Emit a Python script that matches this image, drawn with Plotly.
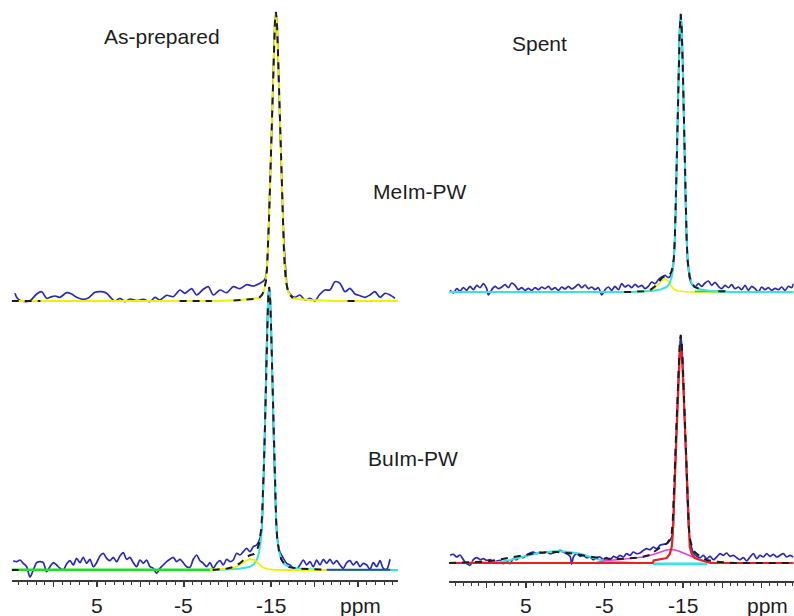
import plotly.graph_objects as go

# ---------------- data (ppm, intensity in arbitrary units) ----------------
# Top-left: As-prepared MeIm-PW
LT_DATA_PPM = [14.43, 14.16, 13.66, 12.70, 11.93, 11.36, 10.79, 10.40, 9.83, 9.25, 8.49, 7.91, 7.34, 6.57, 6.00, 5.23,
               4.46, 3.89, 3.31, 2.93, 2.36, 1.78, 1.21, 0.44, -0.33, -1.09, -1.67, -2.24, -3.01, -3.77, -4.54, -5.11,
               -5.88, -6.46, -7.22, -7.80, -8.37, -9.14, -9.90, -10.67, -11.44, -12.20, -12.97, -13.74, -14.31, -14.54,
               -14.65, -14.77, -14.88, -15.00, -15.11, -15.22, -15.34, -15.45, -15.57, -15.69, -15.80, -15.92, -16.03,
               -16.15, -16.26, -16.38, -16.49, -16.60, -16.72, -16.85, -17.18, -17.76, -18.33, -18.90, -19.48, -20.06,
               -20.55, -21.20, -21.78, -22.36, -22.93, -23.50, -24.08, -24.66, -25.23, -25.80, -26.38, -26.95, -27.53,
               -28.10, -28.68, -29.25]
LT_DATA_INT = [7.7, 2.7, 0, 0.3, 7, 9.3, 2.7, 3.7, 5, 3.7, 8.3, 7, 3.7, 1.7, 3, 8.7,
               9.3, 7.7, 2.3, -0.3, 2.7, -0.7, 2, 0.3, 1.7, -0.7, 3.7, 1, 5.7, 4.3, 11, 7.7,
               12.3, 6, 11.7, 14.3, 6, 11, 8.3, 14.3, 12.3, 16.3, 15, 17.7, 21.7, 34,
               52, 84, 114, 147, 177, 213, 251, 278, 289, 278, 251, 213, 177,
               147, 114, 84, 60, 42, 28, 14, 7, 3.7, 6, 1, 2.7, 0,
               6, 11, 11, 19.3, 17.7, 9.3, 12.7, 7, 5.3, 3.7, 6, 9.3, 3.7,
               7.7, 6, 2.7]
LT_FIT_PPM = [14.8, -8.67, -11.55, -13.04, -13.62, -13.96, -14.19, -14.42, -14.54, -14.65, -14.77, -14.88, -15.00,
              -15.11, -15.22, -15.34, -15.45, -15.57, -15.69, -15.80, -15.92, -16.03, -16.15, -16.26, -16.38, -16.49,
              -16.60, -16.72, -16.95, -17.18, -17.52, -18.10, -19.59, -22.47, -29.6]
LT_FIT_INT = [0, 0, 1, 2, 3, 6, 10, 20, 32, 50, 80, 112, 145,
              175, 212, 250, 278, 289, 278, 250, 212, 175, 145, 112, 80, 50,
              32, 20, 10, 6, 3, 2, 1, 0, 0]
LT_SUM_PPM = [14.8, 11.5, None, -4.5, -8.2, None, -10.7, -11.55, -13.04, -13.62, -13.96, -14.19, -14.42, -14.54,
              -14.65, -14.77, -14.88, -15.00, -15.11, -15.22, -15.34, -15.45, -15.57, -15.69, -15.80, -15.92, -16.03,
              -16.15, -16.26, -16.38, -16.49, -16.60, -16.72, -16.95, -17.18, -17.52, None, -23.8, -25.3]
LT_SUM_INT = [0, 0, None, 0, 0, None, 0.6, 1, 2, 3, 6, 10, 20, 32,
              50, 80, 112, 145, 175, 212, 250, 278, 289, 278, 250, 212, 175,
              145, 112, 80, 50, 32, 20, 10, 6, 3, None, 0, 0]

# Top-right: Spent MeIm-PW
RT_DATA_PPM = [14.68, 14.25, 13.83, 13.40, 12.98, 12.56, 12.13, 11.71, 11.28, 10.86, 10.43, 10.01, 9.80, 9.37, 8.95,
               8.52, 8.10, 7.67, 7.25, 6.82, 6.40, 5.97, 5.55, 5.12, 4.70, 4.28, 3.85, 3.43, 3.00, 2.58, 2.15, 1.73,
               1.30, 0.88, 0.45, 0.03, -0.40, -0.82, -1.25, -1.67, -2.09, -2.52, -2.94, -3.37, -3.79, -4.22, -4.64,
               -5.07, -5.49, -5.92, -6.34, -6.77, -7.19, -7.61, -8.04, -8.46, -8.89, -9.31, -9.74, -10.16, -10.59,
               -11.01, -11.44, -11.86, -12.29, -12.71, -13.13, -13.56, -13.82, -13.95, -14.07, -14.20, -14.33, -14.46,
               -14.58, -14.71, -14.84, -14.97, -15.09, -15.22, -15.35, -15.47, -15.60, -15.86, -16.11, -16.53, -16.96,
               -17.38, -17.81, -18.23, -18.66, -19.08, -19.50, -19.93, -20.35, -20.78, -21.20, -21.63, -22.05, -22.48,
               -22.90, -23.33, -23.75, -24.18, -24.60, -25.02, -25.45, -25.87, -26.30, -26.72, -27.15, -27.57, -28.00,
               -28.42, -28.85, -29.06]
RT_DATA_INT = [1.7, -1, 3.3, 1, 4.3, 1.7, 5.7, 2.3, 6.7, 4.3, 8.3, 3.3, -3, 2.3, 5.7,
               3.3, 5, 7.3, 4.3, 9, 6.7, 2.3, 4.3, 1.7, 3.7, 1.7, 4.3, 2.3, 5, 3.3, 5.7, 2.3,
               4.3, 1.7, 5, 3, 5.7, 3, 5, 7.7, 4.3, 7, 3.3, 5, 2.3, 4.3, -3,
               2.3, 5, 1.7, 5.7, 2.3, 8.3, 5, 7, 4.3, 7.7, 5, 6.7, 3.3, 5.7,
               10, 8.3, 12.3, 15, 16.7, 14.3, 18.3, 32, 52, 82, 132, 177, 227,
               263, 278, 263, 227, 177, 132, 82, 52, 32, 13, 8.3, 5, 8.3,
               5.7, 9, 11, 6.7, 9.7, 5.7, 3.3, 6.7, 4.3, 7.3, 3.3, 5, 2.3,
               6.7, 1.7, 5.7, 3.3, 0, 5, 2.3, 4.3, 1.7, 3.7, 2.3, 5, 1.7,
               5.7, 4.3, 8.3]
RT_MAIN_PPM = [14.8, -8.34, -10.89, -12.16, -12.93, -13.31, -13.56, -13.82, -13.95, -14.07, -14.20, -14.33, -14.46,
               -14.58, -14.71, -14.84, -14.97, -15.09, -15.22, -15.35, -15.47, -15.60, -15.86, -16.11, -16.49, -17.26,
               -18.53, -21.08, -29.1]
RT_MAIN_INT = [0, 0, 1, 2.5, 5, 9, 15, 30, 50, 80, 130, 175, 225,
               262, 278, 262, 225, 175, 130, 80, 50, 30, 15, 9, 5, 2.5,
               1, 0, 0]
RT_SIDE_PPM = [-8.0, -10.0, -10.8, -11.4, -11.9, -12.3, -12.7, -13.1, -13.4, -13.8, -14.3, -15.0, -16.0, -20.0]
RT_SIDE_INT = [0, 0.5, 1.5, 4, 8, 11.5, 13, 11, 7, 3, 1, 0.3, 0, 0]
RT_SUM_PPM = [-7.5, -8.34, -10.0, -10.89, -11.4, -11.9, -12.3, -12.7, -13.1, -13.31, -13.56, -13.82, -13.95, -14.07,
              -14.20, -14.33, -14.46, -14.58, -14.71, -14.84, -14.97, -15.09, -15.22, -15.35, -15.47, -15.60, -15.86,
              -16.11, -16.49, -17.26, None, -19.5, -21.0]
RT_SUM_INT = [0, 0, 0.8, 2.5, 5.5, 10, 14, 16, 17, 17, 21, 33, 52, 81,
              130, 175, 225, 262, 278, 262, 225, 175, 130, 80, 50, 30, 15,
              9, 5, 2.5, None, 0.7, 0.7]
RT_BASE_PPM = [-16.5, -20.5]
RT_BASE_INT = [0.7, 0.7]

# Bottom-left: As-prepared BuIm-PW
LB_LEFT_PPM = [14.62, 14.23, 13.85, 13.47, 13.08, 12.70, 12.32, 11.93, 11.55, 11.17,
               10.79, 10.40, 10.02, 9.64, 9.25, 8.87, 8.49, 8.10, 7.72, 7.34,
               6.95, 6.57, 6.19, 5.81, 5.42, 5.04, 4.66, 4.27, 3.89, 3.51,
               3.12, 2.74, 2.36, 1.97, 1.59, 1.21, 0.82, 0.44, 0.06, -0.33,
               -0.71, -1.09, -1.48, -1.86, -2.24, -2.62, -3.01, -3.39, -3.77, -4.16,
               -4.54, -4.92, -5.31, -5.69, -6.07, -6.46, -6.84, -7.22, -7.61, -7.99,
               -8.37, -8.75, -9.14, -9.52, -9.90, -10.29, -10.67, -11.05, -11.44, -11.82,
               -12.20, -12.59, -12.97, -13.35, -13.74, -13.93]
LB_LEFT_INT = [9.3, 8.3, 10, 6.7, 3.3, -7, 0, 7.3, 8.3, 7.3,
               -1.7, 3.3, 7.3, 5, 1.7, 0, 6, 9.3, 5, 11.7,
               7.3, 12.7, 6.7, 10.7, 3.3, 7.3, 14, 16.7, 11.7, 9.3,
               12.7, 8.3, 14, 17.3, 10.7, 12.7, 7.3, 3.3, 10, 6.7,
               10, 3.3, 1.7, -3.3, 1.7, 5, 8.3, 10.7, 12.7, 8.3,
               10.7, 7.3, 3.3, 2.7, 10.7, 15, 9.3, 6.7, 3.3, 7.3,
               1.7, 6.7, 9.3, 5, 10.7, 8.3, 10, 16.7, 15, 18.3,
               21.7, 18.3, 23.3, 25, 31.7, 40]
LB_PEAK_PPM = [-14.10, -14.21, -14.33, -14.44, -14.56, -14.67, -14.79, -14.91, -15.02, -15.14, -15.25, -15.37,
               -15.48, -15.60, -15.71, -15.94]
LB_PEAK_INT = [77, 112, 152, 202, 242, 271, 283, 271, 242, 202, 152, 112, 78, 50, 34, 20]
LB_RIGHT_PPM = [-16.42, -16.80, -17.18, -17.57, -17.95, -18.33, -18.72, -19.10, -19.48, -19.87,
                -20.25, -20.63, -21.02, -21.40, -21.78, -22.16, -22.55, -22.93, -23.31, -23.70,
                -24.08, -24.46, -24.85, -25.23, -25.61, -26.00, -26.38, -26.76, -27.15, -27.53,
                -27.91, -28.30, -28.68]
LB_RIGHT_INT = [11.7, 6.7, 5, 1.7, 0.7, 5, 10, 5, 8.3, 3.3,
                10, 5, 10.7, 6.7, 10.7, 6, 9.3, 5, 1.7, 7.3,
                9.3, 5, 8.3, 3.3, 6.7, 5, 0.7, 7.3, 3.3, 9.3,
                1.7, 0.7, 10.7]
LB_MAIN_PPM = [14.8, -9.04, -11.34, -12.49, -13.07, -13.41, -13.64, -13.87, -13.98, -14.10, -14.21, -14.33, -14.44,
               -14.56, -14.67, -14.79, -14.91, -15.02, -15.14, -15.25, -15.37, -15.48, -15.60, -15.71, -15.94, -16.17,
               -16.51, -17.09, -18.24, -20.54, -29.6]
LB_MAIN_INT = [0, 0.3, 1.2, 3, 6, 11, 18, 32, 48, 75, 110, 150, 200,
               240, 270, 283, 270, 240, 200, 150, 110, 75, 48, 32, 18, 11,
               6, 3, 1.2, 0.3, 0]
LB_SIDE_PPM = [-8.0, -10.0, -10.6, -11.4, -12.0, -12.6, -13.1, -13.6, -14.1, -14.6, -15.5, -17.0, -21.5]
LB_SIDE_INT = [0, 1, 2, 5, 8.5, 11, 10, 6, 2.5, 0.8, 0.2, 0, 0]
LB_BASE_PPM = [14.8, -8.3]
LB_BASE_INT = [0.3, 0.3]
LB_TAIL_PPM = [-21.4, -28.7]
LB_TAIL_INT = [0.2, 0.2]
LB_SUM_PPM = [14.8, 13.8, None, -8.3, -10.0, -10.6, -11.4, -12.0, -12.5, -13.07, -13.41, -13.64, -13.87, -13.98,
              -14.10, -14.21, -14.33, -14.44, -14.56, -14.67, -14.79, -14.91, -15.02, -15.14, -15.25, -15.37, -15.48,
              -15.60, -15.71, -15.94, -16.17, -16.51, -17.09, -18.24, -21.4]
LB_SUM_INT = [0, 0, None, 0, 1.5, 2.8, 6.5, 11, 14.5, 16, 20, 27, 40, 55,
              78, 111, 150, 200, 240, 270, 283, 270, 240, 200, 150, 110, 75,
              48, 32, 18, 11, 6, 3, 1.2, 0.4]

# Bottom-right: Spent BuIm-PW
RB_LEFT_PPM = [14.68, 14.26, 13.83, 13.41, 12.98, 12.56, 12.13, 11.71, 11.28, 10.86,
               10.43, 10.01, 9.58, 9.16, 8.74, 8.31, 7.89, 7.46, 7.04, 6.61,
               6.19, 5.76, 5.34, 4.91, 4.49, 4.06, 3.64, 3.22, 2.79, 2.37,
               1.94, 1.52, 1.09, 0.67, 0.24, -0.18, -0.61, -0.82,
               -1.03, -1.46, -1.88, -2.30, -2.73, -3.15, -3.58, -4.00, -4.43, -4.85,
               -5.28, -5.70, -6.13, -6.55, -6.98, -7.40, -7.82, -8.25, -8.67, -9.10,
               -9.52, -9.95, -10.37, -10.80, -11.22, -11.65, -12.07, -12.50, -12.92, -13.35,
               -13.68]
RB_LEFT_INT = [7.7, 8.7, 6, 8, 3.3, -0.7, -2.3, 3.3, 5.3, 3.3,
               4.3, 2.7, 3.3, 1, 2, 2.7, -0.7, 2, -0.7, 4.3,
               3.3, 6.7, 5.3, 7.7, 10, 11, 9.3, 11, 10, 11,
               9.3, 10, 11, 12.7, 11, 9.3, 6.7, -1.3,
               6, 9.3, 6.7, 7.7, 5.3, 6, 3.3, 5.3, 6, 3.3,
               5.3, 2.7, 6.7, 5.3, 7.7, 6, 9.3, 7.7, 11, 9.3,
               10, 12.7, 14.3, 13.3, 16, 14.3, 17.7, 18.7, 19.3, 22.7,
               29.3]
RB_PEAK_PPM = [-13.82, -13.95, -14.07, -14.20, -14.33, -14.46, -14.58, -14.71, -14.84, -14.97, -15.09, -15.22,
               -15.35, -15.47, -15.60, -15.73, -15.86]
RB_PEAK_INT = [52, 82, 110, 138, 168, 195, 215, 228, 217, 197, 170, 140, 112, 84, 54, 34, 24]
RB_RIGHT_PPM = [-16.32, -16.74, -17.17, -17.59, -18.02, -18.44, -18.87, -19.29, -19.71, -20.14,
                -20.56, -20.99, -21.41, -21.84, -22.26, -22.69, -23.11, -23.54, -23.96, -24.39,
                -24.81, -25.24, -25.66, -26.09, -26.51, -26.94, -27.36, -27.78, -28.21, -28.63,
                -29.06]
RB_RIGHT_INT = [10, 6.7, 5.3, 7.7, 4.3, 6.7, 3.3, 6, 9.3, 7.7,
                10, 6.7, 7.7, 5.3, 3.3, 5.3, 2, 6, 9.3, 4.3,
                7.7, 6, 9.3, 6.7, 8.7, 6, 7.7, 9.3, 6, 7.7,
                6]
RB_MAIN_PPM = [14.8, -11.14, -11.27, -12.16, -12.93, -13.31, -13.56, -13.69, -13.82, -13.95, -14.07, -14.20, -14.33,
               -14.46, -14.58, -14.71, -14.84, -14.97, -15.09, -15.22, -15.35, -15.47, -15.60, -15.73, -15.86, -16.11,
               -16.49, -17.26, -18.02, -18.53, -29.1]
RB_MAIN_INT = [0, 0, 2.5, 3.5, 5, 9, 16, 28, 50, 80, 108, 135, 165,
               190, 208, 216, 208, 190, 165, 135, 108, 80, 50, 28, 16, 9,
               5, 3, 1, 0, 0]
RB_MID_PPM = [-4.0, -5.3, -7.0, -8.5, -10.0, -11.2, -12.2, -12.9, -13.4, -14.0, -14.6, -15.2, -15.9, -16.6, -17.3,
              -18.2, -19.5]
RB_MID_INT = [0.5, 2.5, 3.5, 4.5, 6, 8.5, 11.5, 13, 13.5, 13, 11.5, 9.5, 7, 4.5, 2.5, 1, 0]
RB_BROAD_PPM = [14.8, 10.0, 8.3, 7.0, 5.5, 4.0, 2.5, 1.0, -0.5, -1.9, -3.2, -4.4, -5.8, -7.5, -9.0]
RB_BROAD_INT = [0, 0.3, 1, 3, 6, 9, 11, 12, 11, 9.3, 6, 3.3, 1.5, 0.5, 0]
RB_FLAT_PPM = [-11.2, -18.1]
RB_FLAT_INT = [-0.8, -0.8]
RB_SUM_PPM = [14.8, 12.0, 10.0, 8.0, 6.0, 4.0, 2.0, 1.0, -1.0, -3.0, -5.0, -6.5, -8.0, -9.5, -11.0, -11.27, -12.0,
              -12.5, -13.0, -13.31, -13.56, -13.69, -13.82, -13.95, -14.07, -14.20, -14.33, -14.46, -14.58, -14.71,
              -14.84, -14.97, -15.09, -15.22, -15.35, -15.47, -15.60, -15.73, -15.86, -16.11, -16.49, -17.26, -18.02,
              -19.0, -20.5, -22.0, -29.1]
RB_SUM_INT = [0, 0.5, 1.5, 4, 7, 9.5, 11, 11, 9.5, 6.5, 4.5, 4, 4.5, 5.5, 8.5, 11, 15,
              17.5, 20, 24, 30, 42, 63, 93, 120, 148, 178, 202, 220, 228,
              219, 200, 175, 146, 117, 89, 58, 37, 25, 17, 11, 6, 3,
              1.5, 0.5, 0, 0]

TICK_VALS = [5, -5, -15, -25]
TICK_TEXT = ["5", "-5", "-15", "ppm"]

LB_DATA_PPM = LB_LEFT_PPM + LB_PEAK_PPM + LB_RIGHT_PPM
LB_DATA_INT = LB_LEFT_INT + LB_PEAK_INT + LB_RIGHT_INT
RB_DATA_PPM = RB_LEFT_PPM + RB_PEAK_PPM + RB_RIGHT_PPM
RB_DATA_INT = RB_LEFT_INT + RB_PEAK_INT + RB_RIGHT_INT

pairs = [(LT_DATA_PPM, LT_DATA_INT), (LT_FIT_PPM, LT_FIT_INT), (LT_SUM_PPM, LT_SUM_INT),
         (RT_DATA_PPM, RT_DATA_INT), (RT_MAIN_PPM, RT_MAIN_INT), (RT_SIDE_PPM, RT_SIDE_INT),
         (RT_SUM_PPM, RT_SUM_INT), (LB_DATA_PPM, LB_DATA_INT), (LB_MAIN_PPM, LB_MAIN_INT),
         (LB_SIDE_PPM, LB_SIDE_INT), (LB_SUM_PPM, LB_SUM_INT), (RB_DATA_PPM, RB_DATA_INT),
         (RB_MAIN_PPM, RB_MAIN_INT), (RB_MID_PPM, RB_MID_INT), (RB_BROAD_PPM, RB_BROAD_INT),
         (RB_SUM_PPM, RB_SUM_INT)]
for i, (a, b) in enumerate(pairs):
    assert len(a) == len(b), (i, len(a), len(b))

# ---------------- styling ----------------
W, H = 794, 616
BLUE = "#2a2ab6"
YELLOW = "#f0f000"
CYAN = "#36e2e2"
GREEN = "#22dd22"
RED = "#ee1f1f"
MAGENTA = "#dd44dd"
DARK = "#1c1c1c"
FONT = "Liberation Sans, Arial, sans-serif"

fig = go.Figure()


def line(x, y, xa, ya, color, width, dash=None, shape="linear"):
    fig.add_trace(go.Scatter(x=x, y=y, xaxis=xa, yaxis=ya, mode="lines", connectgaps=False,
                             line=dict(color=color, width=width, dash=dash, shape=shape,
                                       smoothing=0.8 if shape == "spline" else None),
                             hoverinfo="skip", showlegend=False))


DASH = "7px,6px"

# top-left (x, y3)
line(LT_DATA_PPM, LT_DATA_INT, "x", "y3", BLUE, 1.7, shape="spline")
line(LT_FIT_PPM, LT_FIT_INT, "x", "y3", YELLOW, 1.9)
line(LT_SUM_PPM, LT_SUM_INT, "x", "y3", DARK, 2, DASH)

# top-right (x2, y4)
line(RT_DATA_PPM, RT_DATA_INT, "x2", "y4", BLUE, 1.7, shape="spline")
line(RT_SIDE_PPM, RT_SIDE_INT, "x2", "y4", YELLOW, 1.6)
line(RT_BASE_PPM, RT_BASE_INT, "x2", "y4", GREEN, 1.8)
line(RT_MAIN_PPM, RT_MAIN_INT, "x2", "y4", CYAN, 2)
line(RT_SUM_PPM, RT_SUM_INT, "x2", "y4", DARK, 2, DASH)

# bottom-left (x, y)
line(LB_DATA_PPM, LB_DATA_INT, "x", "y", BLUE, 1.7, shape="spline")
line(LB_MAIN_PPM, LB_MAIN_INT, "x", "y", CYAN, 2)
line(LB_BASE_PPM, LB_BASE_INT, "x", "y", GREEN, 2.6)
line(LB_SIDE_PPM, LB_SIDE_INT, "x", "y", YELLOW, 1.8)
line(LB_TAIL_PPM, LB_TAIL_INT, "x", "y", "#2e4f86", 2)
line(LB_SUM_PPM, LB_SUM_INT, "x", "y", DARK, 2, DASH)

# bottom-right (x2, y2)
line(RB_DATA_PPM, RB_DATA_INT, "x2", "y2", BLUE, 1.7, shape="spline")
line(RB_BROAD_PPM, RB_BROAD_INT, "x2", "y2", CYAN, 2)
line(RB_FLAT_PPM, RB_FLAT_INT, "x2", "y2", CYAN, 2.8)
line(RB_MID_PPM, RB_MID_INT, "x2", "y2", MAGENTA, 1.6)
line(RB_MAIN_PPM, RB_MAIN_INT, "x2", "y2", RED, 2.2)
line(RB_SUM_PPM, RB_SUM_INT, "x2", "y2", DARK, 2, DASH)


def px_x(p):
    return p / W


def px_y(p):
    return 1 - p / H


axis_common = dict(showgrid=False, zeroline=False, showticklabels=False, showline=True,
                   linecolor="#3a3a3a", linewidth=1.5, ticks="outside", tickcolor="#3a3a3a",
                   ticklen=5, tickwidth=1.3, tick0=0, dtick=5, anchor="free", fixedrange=True,
                   minor=dict(ticks="outside", dtick=1, ticklen=3, tickcolor="#3a3a3a", tickwidth=1))

yaxis_common = dict(visible=False, domain=[0, 1], fixedrange=True)

fig.update_layout(
    width=W, height=H, autosize=False,
    margin=dict(l=0, r=0, t=0, b=0),
    paper_bgcolor="white", plot_bgcolor="rgba(0,0,0,0)",
    xaxis=dict(domain=[px_x(11.7), px_x(398.0)], range=[14.8, -29.6], position=px_y(580), **axis_common),
    xaxis2=dict(domain=[px_x(449.1), px_x(793.7)], range=[14.8, -29.1], position=px_y(581), **axis_common),
    yaxis=dict(anchor="x", range=[-(H - 570), 570], **yaxis_common),
    yaxis2=dict(anchor="x2", range=[-(H - 563), 563], **yaxis_common),
    yaxis3=dict(anchor="x", overlaying="y", range=[-(H - 301), 301], **yaxis_common),
    yaxis4=dict(anchor="x2", overlaying="y2", range=[-(H - 292), 292], **yaxis_common),
)

ann = []
for xa in ["x", "x2"]:
    for v, t in zip(TICK_VALS, TICK_TEXT):
        xv = v
        if t == "ppm":
            xv = -25.3 if xa == "x" else -25.8
        ann.append(dict(x=xv, y=px_y(605), xref=xa, yref="paper", text=t, showarrow=False,
                        xanchor="center", yanchor="middle",
                        font=dict(family=FONT, size=21, color="#1e1e1e")))

labels = [("As-prepared", 161.5, 37), ("Spent", 539, 44), ("MeIm-PW", 420, 191), ("BuIm-PW", 413, 458)]
for t, cx, cy in labels:
    ann.append(dict(x=px_x(cx), y=px_y(cy), xref="paper", yref="paper", text=t, showarrow=False,
                    xanchor="center", yanchor="middle",
                    font=dict(family=FONT, size=21, color="#1e1e1e")))

fig.update_layout(annotations=ann)
fig.write_html("out.html", config={"displayModeBar": False, "staticPlot": True},
               post_script="document.body.style.margin='0px';document.body.style.overflow='hidden';")
